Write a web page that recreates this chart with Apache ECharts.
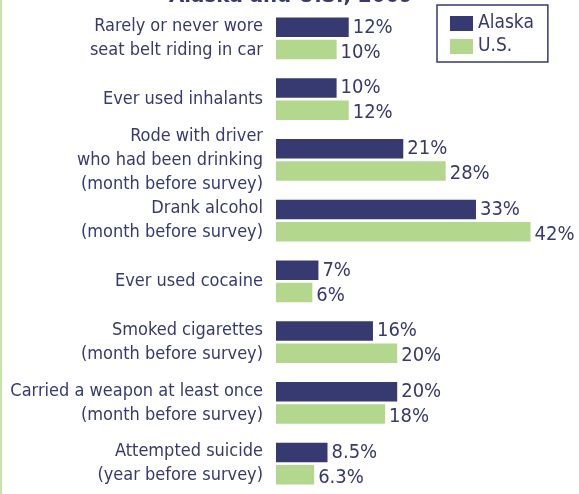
<!DOCTYPE html>
<html>
<head>
<meta charset="utf-8">
<script src="https://cdn.jsdelivr.net/npm/echarts@6/dist/echarts.min.js"></script>
<style>
  html, body { margin: 0; padding: 0; background: #fff; }
  #main { width: 579px; height: 494px; }
</style>
</head>
<body>
<div id="main"></div>
<script>
var categories = [
  "Rarely or never wore\nseat belt riding in car",
  "Ever used inhalants",
  "Rode with driver\nwho had been drinking\n(month before survey)",
  "Drank alcohol\n(month before survey)",
  "Ever used cocaine",
  "Smoked cigarettes\n(month before survey)",
  "Carried a weapon at least once\n(month before survey)",
  "Attempted suicide\n(year before survey)"
];
var alaskaValues = [12, 10, 21, 33, 7, 16, 20, 8.5];
var usValues = [10, 12, 28, 42, 6, 20, 18, 6.3];

var navy = "#363a70";
var green = "#b3d78c";
var font = "'DejaVu Sans Condensed', 'Liberation Sans', sans-serif";

var chart = echarts.init(document.getElementById("main"));

var option = {
  animation: false,
  textStyle: { fontFamily: font },
  title: {
    text: "Alaska and U.S., 2009",
    left: 286,
    textAlign: "center",
    top: -20,
    textStyle: { fontFamily: font, fontSize: 22, fontWeight: "bold", color: navy }
  },
  graphic: [
    { type: "rect", left: 0, top: 0, shape: { width: 2, height: 494 }, style: { fill: "#c9e4ab" } }
  ],
  legend: {
    orient: "vertical",
    left: 437,
    top: 5,
    padding: [9, 14, 6, 13],
    borderColor: navy,
    borderWidth: 1.5,
    itemWidth: 23,
    itemHeight: 15,
    itemGap: 4,
    icon: "rect",
    textStyle: { fontFamily: font, fontSize: 19, color: navy },
    data: ["Alaska", "U.S."]
  },
  grid: { left: 276, top: 8, width: 309.5, height: 493 },
  xAxis: {
    type: "value",
    min: 0,
    max: 50,
    show: false
  },
  yAxis: {
    type: "category",
    inverse: true,
    data: categories,
    axisLine: { show: false },
    axisTick: { show: false },
    axisLabel: {
      margin: 13,
      fontFamily: font,
      fontSize: 18,
      lineHeight: 24,
      color: navy,
      align: "right"
    }
  },
  series: [
    {
      name: "Alaska",
      type: "bar",
      data: alaskaValues,
      barWidth: 19.5,
      barGap: "13%",
      itemStyle: { color: navy },
      label: {
        show: true,
        position: "right",
        distance: 4,
        fontFamily: font,
        fontSize: 20,
        color: navy,
        formatter: function (p) { return p.value + "%"; }
      }
    },
    {
      name: "U.S.",
      type: "bar",
      data: usValues,
      barWidth: 19.5,
      itemStyle: { color: green },
      label: {
        show: true,
        position: "right",
        distance: 4,
        offset: [0, 3],
        fontFamily: font,
        fontSize: 20,
        color: navy,
        formatter: function (p) { return p.value + "%"; }
      }
    }
  ]
};

chart.setOption(option);
</script>
</body>
</html>
